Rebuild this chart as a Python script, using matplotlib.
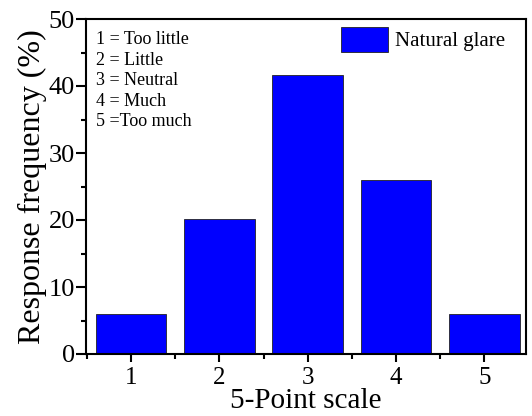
import matplotlib
matplotlib.use("Agg")
import matplotlib.pyplot as plt
from matplotlib.ticker import MultipleLocator

categories = [1, 2, 3, 4, 5]
values = [6.0, 20.2, 41.7, 26.0, 6.0]
series_name = "Natural glare"
scale_text = ["1 = Too little", "2 = Little", "3 = Neutral", "4 = Much", "5 =Too much"]

plt.rcParams['font.family'] = ['Liberation Serif', 'DejaVu Serif']

fig = plt.figure(figsize=(5.32, 4.16), dpi=100)
ax = fig.add_axes([86/532, 1-354/416, 440/532, 335/416])

ax.bar(categories, values, width=0.8, color='#0000FF', edgecolor='#222222',
       linewidth=0.6, label=series_name, zorder=2)

ax.set_xlim(0.49, 5.47)
ax.set_ylim(0, 50)
ax.xaxis.set_major_locator(MultipleLocator(1))
ax.xaxis.set_minor_locator(MultipleLocator(0.5))
ax.yaxis.set_major_locator(MultipleLocator(10))
ax.yaxis.set_minor_locator(MultipleLocator(5))

for s in ax.spines.values():
    s.set_linewidth(1.5)
ax.tick_params(which='major', direction='out', length=6, width=1.5, labelsize=18, pad=3)
ax.tick_params(which='minor', direction='out', length=3.5, width=1.5)
ax.tick_params(axis='y', which='major', length=7, labelsize=19, pad=1)

ax.set_xlabel("5-Point scale", fontsize=21, labelpad=0)
ax.set_ylabel("Response frequency (%)", fontsize=23, labelpad=1)

ax.text(0.023, 0.963, "\n".join(scale_text), transform=ax.transAxes,
        fontsize=13, va='top', ha='left', linespacing=1.27)

leg = ax.legend(loc='upper right', frameon=False, fontsize=15,
                handlelength=2.3, handleheight=1.5, handletextpad=0.3,
                borderaxespad=0.3, bbox_to_anchor=(0.985, 1.02))

fig.savefig("out.png", dpi=100)
